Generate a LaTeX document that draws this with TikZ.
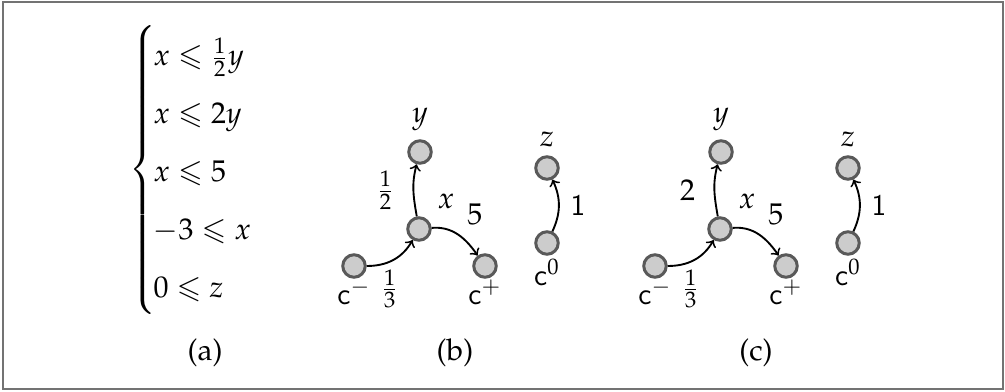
\documentclass[tikz,border=0pt]{standalone}
\usepackage[T1]{fontenc}
\usepackage{amsmath}
\usepackage{amssymb}
\usepackage{mathpazo}
\usetikzlibrary{positioning}
\usetikzlibrary{arrows}

\tikzset{
  var/.style={circle, draw=black!65, fill=black!20, line width=1.2pt, minimum size=9pt, inner sep=0pt},
  arc/.style={->, line width=0.75pt},
}

\begin{document}
\begin{tikzpicture}[x=0.4pt, y=-0.4pt, every node/.style={font=\fontsize{12}{14.4}\selectfont}]
    \useasboundingbox (0,0) rectangle (1005,392);
    \draw[black!55, line width=0.8pt] (3,2) rectangle (1003,389);
    % (a) the system of constraints
    \node[anchor=west, inner sep=0pt] (sys) at (129,170) {$\renewcommand{\arraystretch}{1.61}\left\{\mkern-2mu\begin{array}{@{}l@{}}
        x \leqslant \frac{1}{2}y\\
        x \leqslant 2y\\
        x \leqslant 5\\
        -3 \leqslant x\\
        0 \leqslant z
      \end{array}\right.$};
    \node (capa) at (205,353) {(a)};
    % (b) and (c) the two graphs
    \foreach \dx/\w/\p in {0/{\frac{1}{2}}/b, 301/2/c} {
      \begin{scope}[shift={(\dx,0)}]
        \node[var, label={[label distance=0pt]above:$y$}] (y\p) at (420,152) {};
        \node[var, label={[label distance=1pt]50:$x$}] (x\p) at (419,229) {};
        \node[var, label={[label distance=-3pt]below:$\mathsf{c}^{-}$}] (cm\p) at (354,266) {};
        \node[var, label={[label distance=-3pt]below:$\mathsf{c}^{+}$}] (cp\p) at (485,266) {};
        \node[var, label={[label distance=0pt]above:$z$}] (z\p) at (547,168) {};
        \node[var, label={[label distance=-2pt]below:$\mathsf{c}^{0}$}] (c0\p) at (547,243) {};
        \draw[arc] (cm\p) to[out=0, in=-120] node[pos=0.42, below=-0.5pt] {$\frac{1}{3}$} (x\p);
        \draw[arc] (x\p) to[out=100, in=-105] node[left=4pt] {$\w$} (y\p);
        \draw[arc] (x\p) to[out=5, in=125] node[above right] {$5$} (cp\p);
        \draw[arc] (c0\p) to[out=65, in=-65] node[right=1pt] {$\mathsf{1}$} (z\p);
        \node (cap\p) at (455,353) {(\p)};
      \end{scope}
    }
\end{tikzpicture}
\end{document}
